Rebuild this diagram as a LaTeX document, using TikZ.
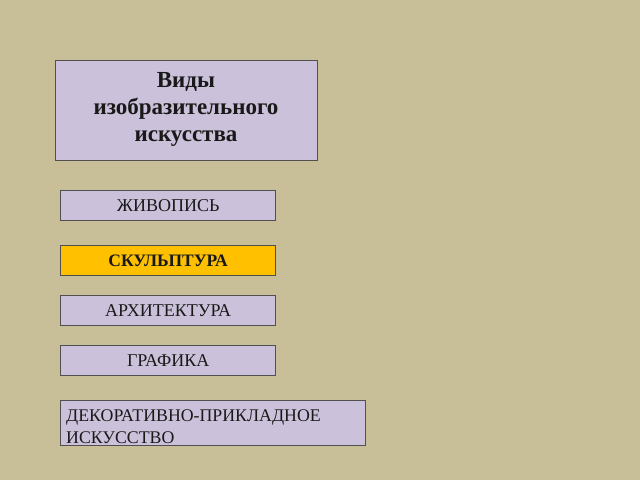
\documentclass[tikz,border=0pt]{standalone}
\usepackage{fontspec}
\setmainfont{Liberation Serif}
\definecolor{bgc}{HTML}{C8BF99}
\definecolor{lav}{HTML}{CCC1DA}
\definecolor{gold}{HTML}{FFC000}
\definecolor{edge}{HTML}{505050}
\begin{document}
\begin{tikzpicture}[x=1pt,y=-1pt,
  box/.style={draw=edge,line width=1.3pt,fill=lav,inner sep=0pt},
  item/.style={font=\fontsize{18}{21}\selectfont,text=black!90}]
\fill[bgc] (0,0) rectangle (640,480);
\useasboundingbox (0,0) rectangle (640,480);
\node[box,minimum width=262,minimum height=100,anchor=north west] (title) at (55,60) {};
\node[align=center,inner sep=0pt,font=\bfseries\fontsize{23}{27}\selectfont,text=black!90] (titlet) at (186,109) {Виды\\изобразительного\\искусства};
\node[box,item,minimum width=215,minimum height=30,anchor=north west] (zh) at (60,190) {ЖИВОПИСЬ};
\node[box,item,fill=gold,minimum width=215,minimum height=30,anchor=north west,font=\bfseries\fontsize{17.5}{21}\selectfont] (sk) at (60,245) {СКУЛЬПТУРА};
\node[box,item,minimum width=215,minimum height=30,anchor=north west] (ar) at (60,295) {АРХИТЕКТУРА};
\node[box,item,minimum width=215,minimum height=30,anchor=north west] (gr) at (60,345) {ГРАФИКА};
\node[box,minimum width=305,minimum height=45,anchor=north west] (dp) at (60,400) {};
\node[item,anchor=north west,align=left,inner sep=0pt,font=\fontsize{17.8}{22}\selectfont] (dpt) at (66,410) {ДЕКОРАТИВНО-ПРИКЛАДНОЕ\\ИСКУССТВО};
\end{tikzpicture}
\end{document}
